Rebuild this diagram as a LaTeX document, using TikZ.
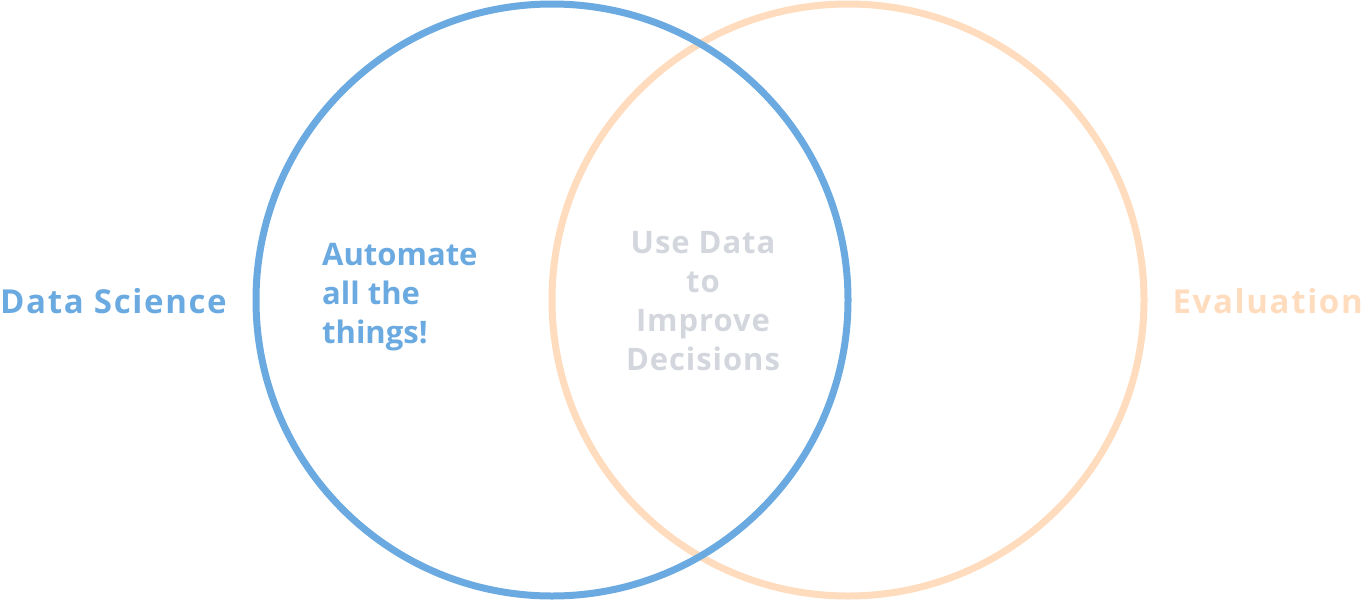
\documentclass[tikz,border=0pt]{standalone}
\usepackage{fontspec}
\setmainfont{Open Sans}
\newfontfamily\widefont[LetterSpace=5]{Open Sans}
\newfontfamily\midfont[LetterSpace=3]{Open Sans}
\definecolor{dsblue}{RGB}{106,170,224}
\definecolor{evorange}{RGB}{255,220,190}
\definecolor{midgrey}{RGB}{211,215,221}
\begin{document}
\begin{tikzpicture}[x=1pt, y=-1pt, line join=round, line cap=round]
			\tikzset{label style/.style={font=\fontsize{31}{39}\selectfont\bfseries, inner sep=0pt},
				mid style/.style={font=\midfont\fontsize{31}{39}\selectfont\bfseries, inner sep=0pt},
				side style/.style={font=\widefont\fontsize{33}{39}\selectfont\bfseries, inner sep=0pt}}
			\useasboundingbox (0,0) rectangle (1363,600);
			\draw[evorange, line width=7] (848,300) circle (296);
			\draw[dsblue, line width=7] (552,300) circle (296);
			\node[side style, text=dsblue, anchor=base west] (ds) at (0,313) {Data Science};
			\node[side style, text=evorange, anchor=base east] (ev) at (1363,313) {Evaluation};
			\node[label style, text=dsblue, anchor=base west] (auto1) at (322,265) {Automate};
			\node[label style, text=dsblue, anchor=base west] (auto2) at (322,304) {all the};
			\node[label style, text=dsblue, anchor=base west] (auto3) at (322,343) {things!};
			\node[mid style, text=midgrey, anchor=base] (use1) at (703,253) {Use Data};
			\node[mid style, text=midgrey, anchor=base] (use2) at (703,292) {to};
			\node[mid style, text=midgrey, anchor=base] (use3) at (703,331) {Improve};
			\node[mid style, text=midgrey, anchor=base] (use4) at (703,370) {Decisions};
			\end{tikzpicture}
\end{document}
